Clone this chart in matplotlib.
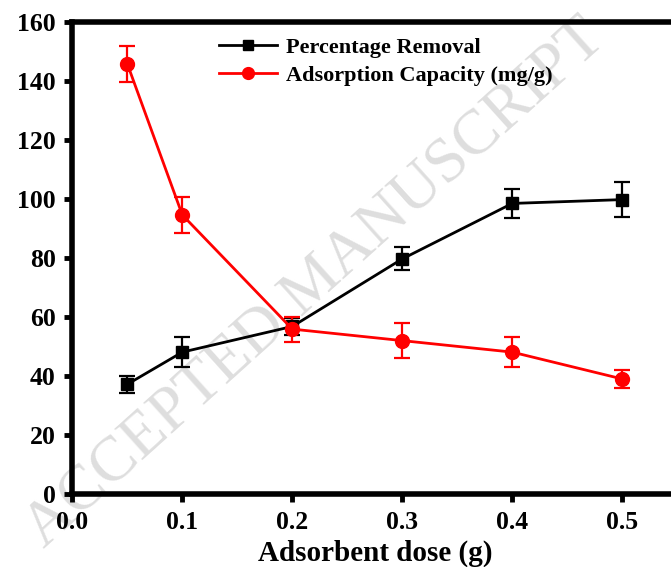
import matplotlib.pyplot as plt
from matplotlib.lines import Line2D

# Data
dose = [0.05, 0.1, 0.2, 0.3, 0.4, 0.5]
removal = [37.2, 48.1, 56.8, 79.7, 98.5, 99.8]
removal_err = [2.9, 5.1, 3.0, 3.9, 5.0, 6.0]
capacity = [145.8, 94.6, 55.9, 52.0, 48.1, 39.0]
capacity_err = [6.0, 6.0, 4.2, 6.0, 5.0, 3.0]

plt.rcParams['font.family'] = ['Liberation Serif', 'DejaVu Serif']
plt.rcParams['font.weight'] = 'bold'

fig = plt.figure(figsize=(6.71, 5.67), dpi=100)
ax = fig.add_axes([0.1078, 0.1287, 0.9015, 0.8325])
ax.set_zorder(2)
ax.set_facecolor('none')

# faint watermark behind the plot
fig.text(0.47, 0.50, 'ACCEPTED MANUSCRIPT', rotation=42, fontsize=46,
         color='#dedede', ha='center', va='center', zorder=0,
         fontweight='normal')

ax.errorbar(dose, removal, yerr=removal_err, color='black', marker='s',
            markersize=8.5, linewidth=2, elinewidth=1.6, capsize=6,
            capthick=1.6, zorder=3)
ax.errorbar(dose, capacity, yerr=capacity_err, color='red', marker='o',
            markersize=10, linewidth=2, elinewidth=1.6, capsize=6,
            capthick=1.6, zorder=3)

ax.set_xlim(0, 0.55)
ax.set_ylim(0, 160)
ax.set_xticks([0.0, 0.1, 0.2, 0.3, 0.4, 0.5])
ax.set_yticks(range(0, 161, 20))

for s in ax.spines.values():
    s.set_linewidth(4)
ax.tick_params(direction='out', length=6, width=3.5, labelsize=18.5, pad=6)
ax.set_xlabel('Adsorbent dose (g)', fontsize=21, fontweight='bold', labelpad=4)

# legend shows plain line + marker (no error bars)
handles = [Line2D([], [], color='black', marker='s', markersize=7, linewidth=2),
           Line2D([], [], color='red', marker='o', markersize=8.5, linewidth=2)]
labels = ['Percentage Removal', 'Adsorption Capacity (mg/g)']
leg = ax.legend(handles, labels, loc='upper left', bbox_to_anchor=(0.21, 1.01),
                frameon=False, fontsize=16, handlelength=2.6,
                handletextpad=0.4, labelspacing=0.35)
for t in leg.get_texts():
    t.set_fontweight('bold')

fig.savefig('out.png', dpi=100)
